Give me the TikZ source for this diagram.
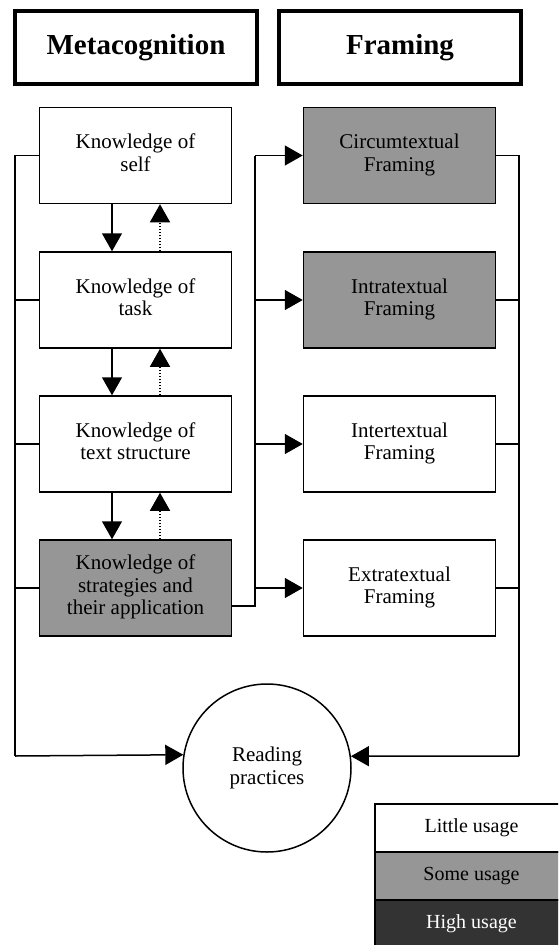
\documentclass[tikz,border=0pt]{standalone}
\usepackage{fontspec}
\setmainfont{Liberation Serif}
\usetikzlibrary{arrows.meta,calc}
\definecolor{midgray}{HTML}{969696}
\definecolor{deepgray}{HTML}{333333}
\begin{document}
\begin{tikzpicture}[x=1pt,y=-1pt,
  hdr/.style={draw,line width=4pt,minimum width=242pt,minimum height=73pt,inner sep=0pt,font=\fontsize{29}{32}\selectfont\bfseries},
  box/.style={draw,line width=1.5pt,minimum width=192pt,minimum height=96pt,inner sep=0pt,text depth=6pt,align=center,font=\fontsize{21}{22.5}\selectfont},
  shaded/.style={fill=midgray},
  conn/.style={line width=1.5pt},
  arr/.style={conn,-{Triangle[width=20pt,length=18pt]}},
  dotarr/.style={arr,dash pattern=on 1.5pt off 1.5pt},
  legbox/.style={draw,line width=1.5pt,minimum width=193pt,minimum height=48pt,inner sep=0pt,font=\fontsize{20}{22}\selectfont}]
\useasboundingbox (0,0) rectangle (558,945);
\fill[white] (0,0) rectangle (558,945);
\clip (0,0) rectangle (558,945);

% headers
\node[hdr] (hm) at (136,47.5) {Metacognition};
\node[hdr] (hf) at (400,47.5) {Framing};

% metacognition boxes
\node[box] (k1) at (135.5,155.5) {Knowledge of\\self};
\node[box] (k2) at (135.5,300) {Knowledge of\\task};
\node[box] (k3) at (135.5,444) {Knowledge of\\text structure};
\node[box,shaded] (k4) at (135.5,588) {Knowledge of\\strategies and\\their application};

% framing boxes
\node[box,shaded] (f1) at (399.5,155.5) {Circumtextual\\Framing};
\node[box,shaded] (f2) at (399.5,300) {Intratextual\\Framing};
\node[box] (f3) at (399.5,444) {Intertextual\\Framing};
\node[box] (f4) at (399.5,588) {Extratextual\\Framing};

% reading practices
\node[draw,circle,line width=1.5pt,minimum size=168pt,inner sep=0pt,align=center,text depth=4.5pt,font=\fontsize{21}{22.5}\selectfont] (rp) at (267,768) {Reading\\practices};

% vertical arrows between metacognition boxes
\foreach \a/\b in {k1/k2,k2/k3,k3/k4}{
  \draw[arr] ([xshift=-23.5pt]\a.south) -- ([xshift=-23.5pt]\b.north);
  \draw[dotarr] ([xshift=24.5pt]\b.north) -- ([xshift=24.5pt]\a.south);
}

% left bus
\coordinate (lb) at (15,756);
\draw[conn] (k1.west) -| (lb);
\foreach \k in {k2,k3,k4}{\draw[conn] (\k.west) -- (\k.west -| lb);}
\draw[arr] (lb) -- (rp.171.8);

% middle bus
\coordinate (mt) at (255,155.5);
\draw[conn] ([yshift=-18pt]k4.east) -| (mt);
\draw[arr] (mt) -- (f1.west);
\foreach \f in {f2,f3,f4}{\draw[arr] (\f.west -| mt) -- (\f.west);}

% right bus
\coordinate (rb) at (519,756);
\draw[conn] (f1.east) -| (rb);
\foreach \f in {f2,f3,f4}{\draw[conn] (\f.east) -- (\f.east -| rb);}
\draw[arr] (rb) -- (rp.8.2);

% legend
\node[legbox,fill=white] (l1) at (471.5,828) {Little usage};
\node[legbox,fill=midgray] (l2) at (471.5,876) {Some usage};
\node[legbox,fill=deepgray,text=white] (l3) at (471.5,924) {High usage};
\end{tikzpicture}
\end{document}
